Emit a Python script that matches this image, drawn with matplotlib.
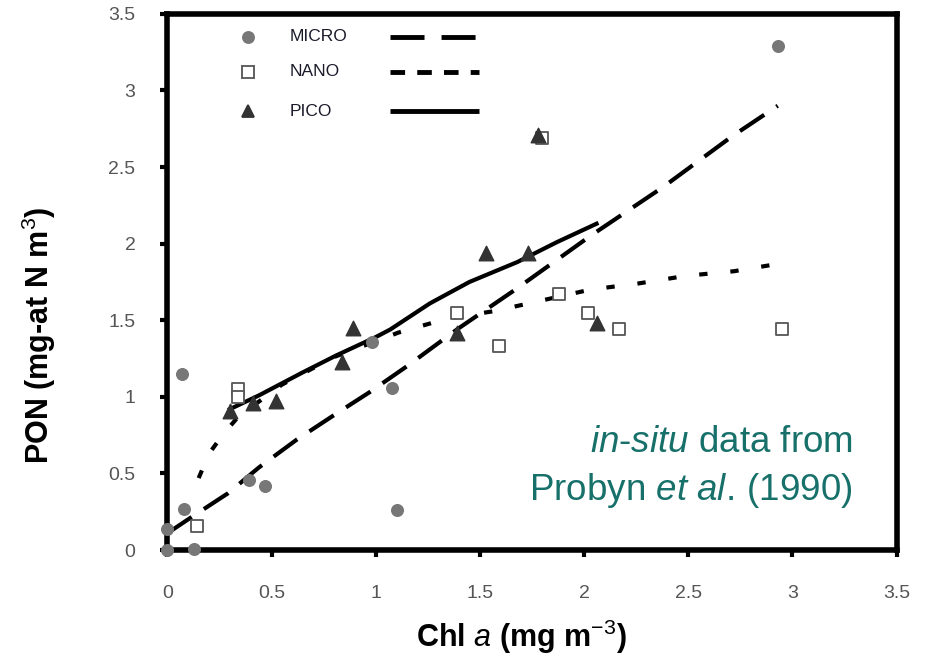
import matplotlib
matplotlib.use('Agg')
import matplotlib.pyplot as plt

plt.rcParams['font.family'] = ['Liberation Sans', 'DejaVu Sans']
plt.rcParams['mathtext.fontset'] = 'custom'
plt.rcParams['mathtext.rm'] = 'Liberation Sans'
plt.rcParams['mathtext.it'] = 'Liberation Sans:italic'
plt.rcParams['mathtext.bf'] = 'Liberation Sans:bold'

# size-fractionated observations (Chl a vs PON)
micro_chl = [0.0, 0.0, 0.07, 0.08, 0.13, 0.39, 0.47, 0.98, 1.08, 1.10, 2.93]
micro_pon = [0.0, 0.14, 1.15, 0.27, 0.01, 0.46, 0.42, 1.36, 1.06, 0.26, 3.29]

nano_chl = [0.14, 0.34, 0.34, 1.39, 1.59, 1.80, 1.88, 2.02, 2.17, 2.95]
nano_pon = [0.16, 1.05, 1.00, 1.55, 1.33, 2.69, 1.67, 1.55, 1.44, 1.44]

pico_chl = [0.30, 0.41, 0.52, 0.84, 0.89, 1.39, 1.53, 1.73, 1.78, 2.06]
pico_pon = [0.91, 0.96, 0.97, 1.23, 1.45, 1.42, 1.94, 1.94, 2.71, 1.48]

# fitted curves
micro_fit_x = [0.0, 0.11, 0.29, 0.44, 0.62, 0.81, 0.97, 1.15, 1.39, 1.67, 2.03, 2.38, 2.71, 2.93]
micro_fit_y = [0.11, 0.21, 0.37, 0.54, 0.72, 0.89, 1.03, 1.20, 1.44, 1.70, 2.05, 2.37, 2.70, 2.90]

nano_fit_x = [0.15, 0.20, 0.27, 0.34, 0.55, 0.80, 1.11, 1.34, 1.57, 1.80, 2.03, 2.26, 2.49, 2.72, 2.94]
nano_fit_y = [0.47, 0.63, 0.76, 0.87, 1.08, 1.26, 1.42, 1.51, 1.56, 1.63, 1.70, 1.74, 1.79, 1.82, 1.87]

pico_fit_x = [0.30, 0.44, 0.65, 0.81, 1.00, 1.07, 1.26, 1.45, 1.68, 1.87, 2.06]
pico_fit_y = [0.92, 1.01, 1.16, 1.27, 1.39, 1.44, 1.61, 1.75, 1.88, 2.01, 2.13]

x_ticks = [0, 0.5, 1, 1.5, 2, 2.5, 3, 3.5]
y_ticks = [0, 0.5, 1, 1.5, 2, 2.5, 3, 3.5]

fig = plt.figure(figsize=(9.3, 6.58), dpi=100)
ax = fig.add_axes([0.180, 0.164, 0.784, 0.815])

ax.plot(micro_fit_x, micro_fit_y, color='black', lw=3, dashes=(7, 3.5), zorder=2)
ax.plot(nano_fit_x, nano_fit_y, color='black', lw=3, dashes=(2, 5.5), zorder=2)
ax.plot(pico_fit_x, pico_fit_y, color='black', lw=3, zorder=2)

ax.scatter(micro_chl, micro_pon, s=70, marker='o', color='#777777', zorder=3, clip_on=False)
ax.scatter(nano_chl, nano_pon, s=80, marker='s', facecolor='white', edgecolor='#555555',
           lw=1.3, zorder=3, clip_on=False)
ax.scatter(pico_chl, pico_pon, s=110, marker='^', color='#333333', zorder=4)

ax.set_xlim(0, 3.5)
ax.set_ylim(0, 3.5)
ax.set_xticks(x_ticks)
ax.set_yticks(y_ticks)
ax.set_xticklabels([f'{t:g}' for t in x_ticks])
ax.set_yticklabels([f'{t:g}' for t in y_ticks])
ax.tick_params(direction='out', length=5, width=3, labelsize=14, labelcolor='#555555')
ax.tick_params(axis='x', pad=20)
ax.tick_params(axis='y', pad=18)
for sp in ax.spines.values():
    sp.set_linewidth(4)

ax.set_xlabel(r'Chl $\mathit{a}$ (mg m$^{-3}$)', fontsize=22, fontweight='bold')
ax.set_ylabel(r'PON (mg-at N m$^{3}$)', fontsize=22, fontweight='bold')
ax.xaxis.set_label_coords(0.485, -0.127)
ax.yaxis.set_label_coords(-0.15, 0.40)

# legend: marker, name, line style
legend_rows = [('MICRO', 'o', '#777777', '#777777', (7, 3.5)),
               ('NANO', 's', 'white', '#555555', (3, 2.5)),
               ('PICO', '^', '#333333', '#333333', None)]
row_y = [0.957, 0.892, 0.818]
for (name, mk, fc, ec, dash), yy in zip(legend_rows, row_y):
    ax.plot([0.110], [yy], marker=mk, ms=8 if mk != 's' else 8.5, mfc=fc, mec=ec,
            mew=1.3, transform=ax.transAxes, clip_on=False)
    ax.text(0.168, yy, name, transform=ax.transAxes, fontsize=12.5, color='#1a1a2a',
            va='center', ha='left')
    ln, = ax.plot([0.305, 0.427], [yy, yy], color='black', lw=3.5,
                  transform=ax.transAxes, solid_capstyle='butt')
    if dash is not None:
        ln.set_dashes(dash)

teal = '#17706a'
ax.text(0.94, 0.183, r'$\mathit{in}$-$\mathit{situ}$ data from', transform=ax.transAxes,
        fontsize=26.5, color=teal, ha='right', va='baseline')
ax.text(0.94, 0.093, r'Probyn $\mathit{et}$ $\mathit{al.}\,$(1990)', transform=ax.transAxes,
        fontsize=26.5, color=teal, ha='right', va='baseline')

fig.savefig('out.png', dpi=100)
